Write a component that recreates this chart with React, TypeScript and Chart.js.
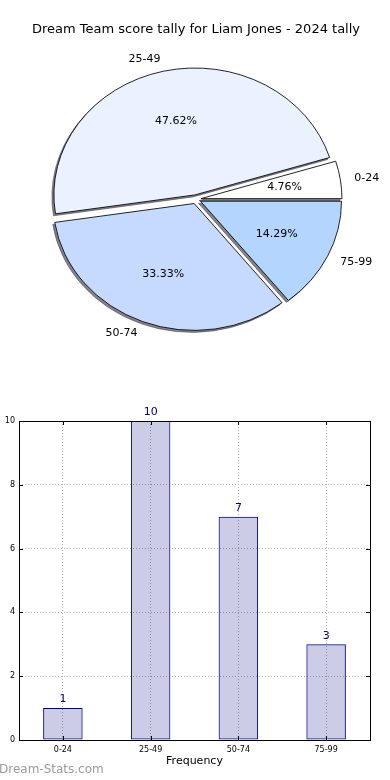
import { useEffect, useRef } from 'react';
import { Chart, registerables } from 'chart.js';

Chart.register(...registerables);

const TITLE = 'Dream Team score tally for Liam Jones - 2024 tally';
const categories = ['0-24', '25-49', '50-74', '75-99'];
const counts = [1, 10, 7, 3];
const pieColors = ['#ffffff', '#ebf1fe', '#c6d9fe', '#b3d5fe'];
const X_TITLE = 'Frequency';
const WATERMARK = 'Dream-Stats.com';

const FONT = '"DejaVu Sans", Verdana, sans-serif';
const SCALE_Y = 0.9;
const EXPLODE = 5;

const total = counts.reduce((a, b) => a + b, 0);
const pctLabels = counts.map((c) => ((c / total) * 100).toFixed(2) + '%');

const piePlugin = {
  id: 'mplPie',
  beforeDatasetsDraw(chart: any) {
    const ctx = chart.ctx as CanvasRenderingContext2D;
    const arcs = chart.getDatasetMeta(0).data as any[];
    if (!arcs.length) return false;
    const cx = arcs[0].x;
    const cy = arcs[0].y;
    const withT = (fn: () => void) => {
      ctx.save();
      ctx.translate(cx, cy);
      ctx.scale(1, -SCALE_Y);
      ctx.translate(-cx, -cy);
      fn();
      ctx.restore();
    };
    const drawArcs = () =>
      arcs.forEach((arc) => {
        const mid = (arc.startAngle + arc.endAngle) / 2;
        ctx.save();
        ctx.translate(EXPLODE * Math.cos(mid), EXPLODE * Math.sin(mid));
        arc.draw(ctx);
        ctx.restore();
      });
    // shadows first (offset drawing trick)
    ctx.save();
    ctx.shadowColor = 'rgba(50,50,60,0.6)';
    ctx.shadowBlur = 0;
    ctx.shadowOffsetX = 10000 - 2;
    ctx.shadowOffsetY = 2;
    ctx.translate(-10000, 0);
    withT(drawArcs);
    ctx.restore();
    // slices
    withT(drawArcs);
    // labels
    ctx.save();
    ctx.font = '11px ' + FONT;
    ctx.fillStyle = '#000';
    ctx.textBaseline = 'middle';
    arcs.forEach((arc, i) => {
      const mid = (arc.startAngle + arc.endAngle) / 2;
      const r = arc.outerRadius;
      const px = (k: number) => cx + Math.cos(mid) * (k * r + EXPLODE);
      const py = (k: number) => cy - SCALE_Y * Math.sin(mid) * (k * r + EXPLODE);
      ctx.textAlign = Math.cos(mid) > 0 ? 'left' : 'right';
      ctx.fillText(categories[i], px(1.1), py(1.1));
      ctx.textAlign = 'center';
      ctx.fillText(pctLabels[i], px(0.6), py(0.6));
    });
    ctx.restore();
    return false;
  },
};

const barPlugin = {
  id: 'mplFrame',
  afterDatasetsDraw(chart: any) {
    const ctx = chart.ctx as CanvasRenderingContext2D;
    const { left, right, top, bottom } = chart.chartArea;
    const xs = chart.scales.x;
    const ys = chart.scales.y;
    ctx.save();
    ctx.strokeStyle = '#000';
    ctx.lineWidth = 1;
    ctx.beginPath();
    ys.ticks.forEach((t: any) => {
      const y = Math.round(ys.getPixelForValue(t.value)) + 0.5;
      ctx.moveTo(left, y);
      ctx.lineTo(left + 4, y);
      ctx.moveTo(right - 4, y);
      ctx.lineTo(right, y);
    });
    xs.ticks.forEach((_t: any, i: number) => {
      const x = Math.round(xs.getPixelForTick(i)) + 0.5;
      ctx.moveTo(x, bottom);
      ctx.lineTo(x, bottom - 4);
      ctx.moveTo(x, top);
      ctx.lineTo(x, top + 4);
    });
    ctx.stroke();
    ctx.strokeRect(Math.round(left) + 0.5, Math.round(top) + 0.5, Math.round(right - left), Math.round(bottom - top));
    // value labels
    ctx.font = '11px ' + FONT;
    ctx.fillStyle = '#000080';
    ctx.textAlign = 'center';
    ctx.textBaseline = 'bottom';
    chart.getDatasetMeta(0).data.forEach((bar: any, i: number) => {
      ctx.fillText(String(counts[i]), bar.x, bar.y - 3);
    });
    // watermark
    ctx.font = '12px ' + FONT;
    ctx.fillStyle = '#9a9a9a';
    ctx.textAlign = 'left';
    ctx.textBaseline = 'middle';
    ctx.fillText(WATERMARK, -1, 400);
    ctx.restore();
  },
};

export default function App() {
  const pieRef = useRef<HTMLCanvasElement>(null);
  const barRef = useRef<HTMLCanvasElement>(null);

  useEffect(() => {
    const pie = new Chart(pieRef.current as HTMLCanvasElement, {
      type: 'pie',
      data: {
        labels: categories,
        datasets: [
          {
            data: counts,
            backgroundColor: pieColors,
            borderColor: '#000',
            borderWidth: 0.9,
          },
        ],
      },
      options: {
        responsive: false,
        animation: false,
        events: [],
        rotation: 90,
        radius: 141,
        layout: { padding: { top: 0, left: 2, right: 0, bottom: 9 } },
        plugins: {
          legend: { display: false },
          tooltip: { enabled: false },
          title: {
            display: true,
            text: TITLE,
            color: '#000',
            font: { family: FONT, size: 13, weight: 'normal' },
            padding: { top: 22, bottom: 0 },
          },
        },
      } as any,
      plugins: [piePlugin],
    });

    const tickFont = { family: FONT, size: 8 };
    const bar = new Chart(barRef.current as HTMLCanvasElement, {
      type: 'bar',
      data: {
        labels: categories,
        datasets: [
          {
            data: counts,
            backgroundColor: 'rgba(0,0,128,0.2)',
            borderColor: '#000080',
            borderWidth: 1,
            borderSkipped: false,
            barPercentage: 0.45,
            categoryPercentage: 1,
          },
        ],
      },
      options: {
        responsive: false,
        animation: false,
        events: [],
        layout: { padding: { top: 51, right: 20, left: 0, bottom: 0 } },
        plugins: {
          legend: { display: false },
          tooltip: { enabled: false },
          title: { display: false },
        },
        scales: {
          x: {
            offset: true,
            grid: { offset: false, color: '#b0b0b0', drawTicks: false, lineWidth: 1 },
            border: { display: false, dash: [1, 2] },
            ticks: { font: tickFont, color: '#000', padding: 5, maxRotation: 0 },
            title: {
              display: true,
              text: X_TITLE,
              color: '#000',
              font: { family: FONT, size: 11 },
              padding: { top: 2, bottom: 12 },
            },
            afterFit: (s: any) => {
              s.height = 40;
            },
          },
          y: {
            min: 0,
            max: 10,
            grid: { color: '#b0b0b0', drawTicks: false, lineWidth: 1 },
            border: { display: false, dash: [1, 2] },
            ticks: { stepSize: 2, font: tickFont, color: '#000', padding: 4 },
            afterFit: (s: any) => {
              s.width = 19;
            },
          },
        },
      } as any,
      plugins: [barPlugin],
    });

    return () => {
      pie.destroy();
      bar.destroy();
    };
  }, []);

  return (
    <div style={{ position: 'absolute', left: 0, top: 0, width: 390, height: 780, background: '#fff' }}>
      <canvas ref={pieRef} width={390} height={370} style={{ position: 'absolute', left: 0, top: 0 }} />
      <canvas ref={barRef} width={390} height={410} style={{ position: 'absolute', left: 0, top: 370 }} />
    </div>
  );
}
